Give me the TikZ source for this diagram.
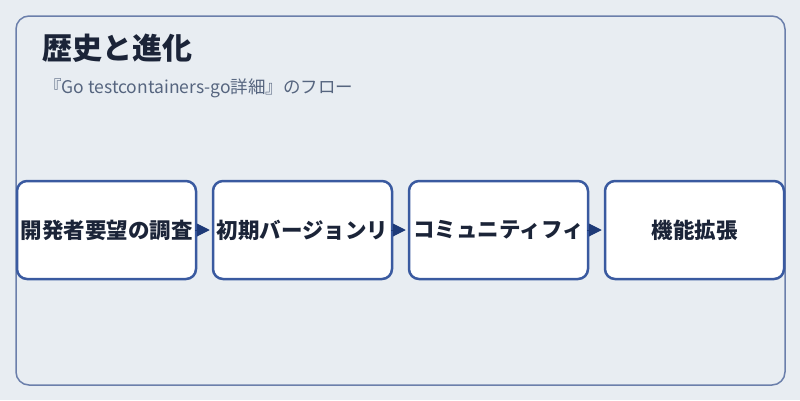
\documentclass[tikz,border=0pt]{standalone}
\usepackage{fontspec}
\setmainfont{Noto Sans CJK JP}
\usetikzlibrary{arrows.meta}
\definecolor{bgc}{HTML}{E8EDF2}
\definecolor{framec}{HTML}{6B7FAB}
\definecolor{boxc}{HTML}{3A5AA0}
\definecolor{arrc}{HTML}{1E3A78}
\definecolor{titc}{HTML}{1B2438}
\definecolor{subc}{HTML}{56657F}
\tikzset{
  stepbox/.style={draw=boxc, line width=2.5pt, fill=white, rounded corners=10pt,
    minimum width=179pt, minimum height=98pt, inner sep=0pt, text=titc,
    font=\fontsize{21.5pt}{24pt}\selectfont\bfseries},
  flowarrow/.style={draw=arrc, line width=1pt, shorten <=2pt, shorten >=2pt,
    -{Triangle[length=13pt,width=13pt]}, arrc}
}
\begin{document}
\begin{tikzpicture}[x=1pt,y=-1pt]
\path[fill=bgc] (0,0) rectangle (800,400);
\useasboundingbox (0,0) rectangle (800,400);
\draw[framec, line width=1.5pt, rounded corners=13pt] (16,16) rectangle (785,385);
\node[anchor=west, text=titc, font=\fontsize{30pt}{34pt}\selectfont\bfseries, inner sep=0pt] (title) at (42,48) {歴史と進化};
\node[anchor=west, text=subc, font=\fontsize{17.5pt}{20pt}\selectfont, inner sep=0pt] (sub) at (44,88.5) {『Go testcontainers-go詳細』のフロー};
\node[stepbox] (b1) at (106.5,230) {開発者要望の調査};
\node[stepbox] (b2) at (302.5,230) {初期バージョンリ};
\node[stepbox] (b3) at (498.5,230) {コミュニティフィ};
\node[stepbox] (b4) at (694.5,230) {機能拡張};
\draw[flowarrow] (b1.east) -- (b2.west);
\draw[flowarrow] (b2.east) -- (b3.west);
\draw[flowarrow] (b3.east) -- (b4.west);
\end{tikzpicture}
\end{document}
